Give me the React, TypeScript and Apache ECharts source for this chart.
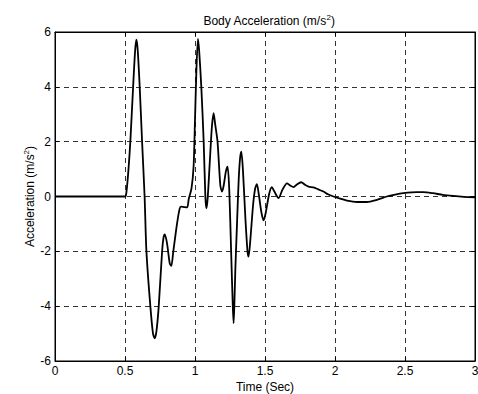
import React, { useEffect, useRef } from "react";
import * as echarts from "echarts";

const times = [
  0, 0.5, 0.51, 0.525, 0.538, 0.558, 0.572, 0.581, 0.59, 0.605, 0.622, 0.64, 0.653, 0.681, 0.7, 0.712,
  0.725, 0.741, 0.765, 0.775, 0.784, 0.8, 0.82, 0.831, 0.845, 0.872, 0.89, 0.9, 0.943, 0.955, 0.975,
  0.99, 1.0, 1.01, 1.021, 1.03, 1.045, 1.062, 1.074, 1.081, 1.09, 1.105, 1.12, 1.133, 1.145, 1.161,
  1.181, 1.193, 1.205, 1.22, 1.233, 1.245, 1.258, 1.27, 1.276, 1.282, 1.288, 1.3, 1.312, 1.322, 1.331,
  1.342, 1.36, 1.375, 1.383, 1.395, 1.415, 1.43, 1.442, 1.455, 1.475, 1.49, 1.505, 1.53, 1.549, 1.565,
  1.597, 1.625, 1.657, 1.68, 1.704, 1.73, 1.759, 1.785, 1.811, 1.847, 1.88, 1.918, 1.95, 1.989, 2.037,
  2.085, 2.156, 2.227, 2.3, 2.37, 2.43, 2.488, 2.584, 2.631, 2.7, 2.77, 2.845, 2.92, 3.0,
];
const accel = [
  0, 0, 0.15, 1.0, 2.0, 4.0, 5.3, 5.72, 5.4, 4.0, 2.0, 0, -2.0, -4.0, -5.0, -5.17,
  -4.9, -4.0, -2.0, -1.5, -1.38, -1.7, -2.45, -2.53, -2.0, -0.98, -0.45, -0.37, -0.4, -0.1, 0.3,
  1.1, 2.8, 4.6, 5.75, 5.3, 4.0, 2.0, 0, -0.43, -0.1, 1.2, 2.5, 3.04, 2.6, 2.0,
  0.4, 0.18, 0.4, 0.9, 1.09, 0.2, -2.0, -4.0, -4.62, -3.8, -2.68, -1.0, 0.6, 1.4, 1.64,
  1.0, -0.8, -2.0, -2.19, -1.6, -0.3, 0.3, 0.45, 0.1, -0.6, -0.87, -0.6, 0.1, 0.34, 0.2,
  -0.06, 0.25, 0.48, 0.4, 0.34, 0.45, 0.52, 0.43, 0.36, 0.33, 0.26, 0.18, 0.08, 0.0, -0.08,
  -0.15, -0.2, -0.2, -0.12, 0.0, 0.07, 0.12, 0.16, 0.16, 0.12, 0.06, 0.02, -0.01, -0.03,
];

const xTicks = [0, 0.5, 1, 1.5, 2, 2.5, 3];
const yTicks = [-6, -4, -2, 0, 2, 4, 6];

const FONT = "'Liberation Sans', Arial, Helvetica, sans-serif";

export default function App() {
  const ref = useRef<HTMLDivElement>(null);
  useEffect(() => {
    if (!ref.current) return;
    const chart = echarts.init(ref.current, null, { renderer: "svg" });
    const dashed = { show: true, lineStyle: { color: "#333", type: [5, 4] as any, width: 1 } };
    const frameLine = { show: true, onZero: false, lineStyle: { color: "#000" } };
    const tick = { show: true, inside: true, length: 4, lineStyle: { color: "#000" } };
    const baseX = {
      type: "value" as const,
      min: xTicks[0],
      max: xTicks[xTicks.length - 1],
      interval: 0.5,
    };
    const baseY = {
      type: "value" as const,
      min: yTicks[0],
      max: yTicks[yTicks.length - 1],
      interval: 2,
    };
    const sup = { fontSize: 8, fontFamily: FONT, color: "#000", padding: [0, 0, 7, 0] };
    chart.setOption({
      animation: false,
      backgroundColor: "#fff",
      title: {
        text: "Body Acceleration (m/s{sup|2})",
        left: 264,
        textAlign: "center",
        top: 8,
        textStyle: {
          fontFamily: FONT,
          fontSize: 12,
          fontWeight: "normal",
          color: "#000",
          rich: { sup },
        },
      },
      grid: {
        left: 55,
        right: 3,
        top: 32,
        bottom: 33,
        show: true,
        borderColor: "#000",
        borderWidth: 1,
        backgroundColor: "#fff",
        containLabel: false,
        outerBoundsMode: "none",
      },
      xAxis: [
        {
          ...baseX,
          position: "bottom",
          name: "Time (Sec)",
          nameLocation: "middle",
          nameGap: 20,
          nameMoveOverlap: false,
          nameTextStyle: { fontFamily: FONT, fontSize: 12, color: "#000" },
          axisLine: frameLine,
          axisTick: tick,
          axisLabel: {
            fontFamily: FONT,
            fontSize: 12,
            color: "#000",
            margin: 4,
            formatter: (v: number) => String(v),
          },
          splitLine: dashed,
        },
        {
          ...baseX,
          position: "top",
          axisLine: frameLine,
          axisTick: tick,
          axisLabel: { show: false },
          splitLine: { show: false },
        },
      ],
      yAxis: [
        {
          ...baseY,
          position: "left",
          name: "Acceleration (m/s{sup|2})",
          nameLocation: "middle",
          nameRotate: 90,
          nameGap: 18,
          nameMoveOverlap: false,
          nameTextStyle: {
            fontFamily: FONT,
            fontSize: 12,
            color: "#000",
            rich: { sup },
          },
          axisLine: frameLine,
          axisTick: tick,
          axisLabel: { fontFamily: FONT, fontSize: 12, color: "#000", margin: 4 },
          splitLine: dashed,
        },
        {
          ...baseY,
          position: "right",
          axisLine: frameLine,
          axisTick: tick,
          axisLabel: { show: false },
          splitLine: { show: false },
        },
      ],
      series: [
        {
          type: "line",
          xAxisIndex: 0,
          yAxisIndex: 0,
          data: times.map((t, i) => [t, accel[i]]),
          showSymbol: false,
          smooth: 0.25,
          lineStyle: { color: "#000", width: 1.8 },
          z: 5,
        },
      ],
    });
    return () => chart.dispose();
  }, []);
  return <div ref={ref} style={{ width: 478, height: 394, position: "absolute", left: 0, top: 0 }} />;
}
